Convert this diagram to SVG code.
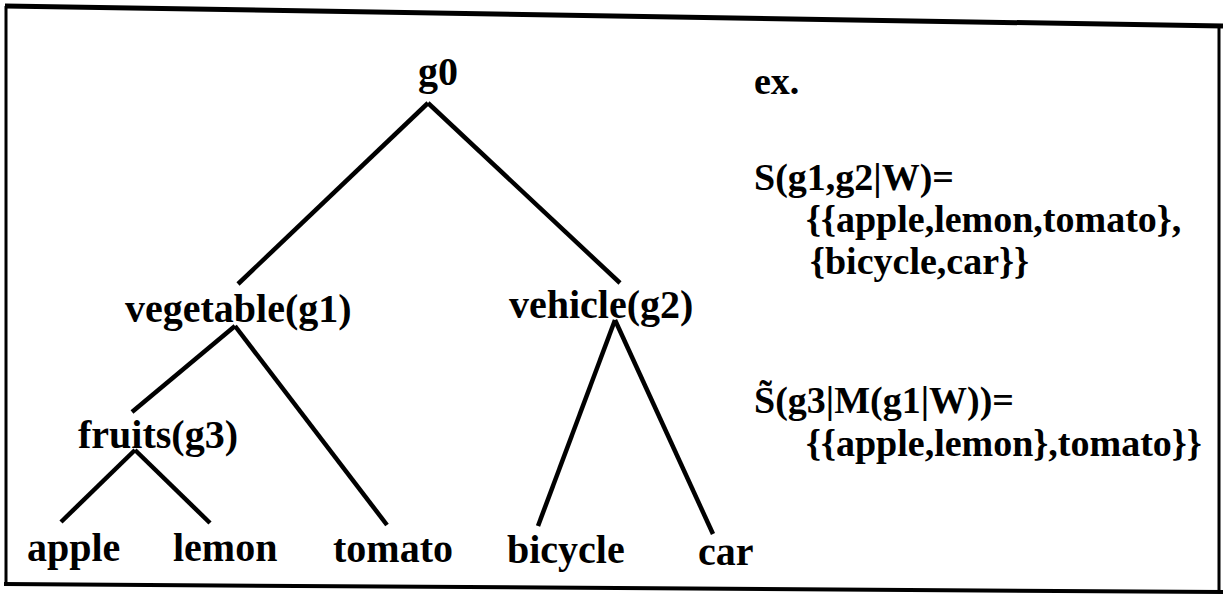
<svg xmlns="http://www.w3.org/2000/svg" width="1223" height="600" viewBox="0 0 1223 600">
  <style>
    .lbl { font-family: "Liberation Serif", "Times New Roman", serif; font-weight: bold; fill: #000; }
    .node { font-size: 40px; }
    .leaf { font-size: 40px; }
    .note { font-size: 38px; }
    .edge { stroke: #000; stroke-width: 4.5; stroke-linecap: butt; fill: none; }
    .frame { stroke: #000; fill: none; }
  </style>
  <rect width="1223" height="600" fill="#fff"/>

  <!-- outer frame (slightly skewed) -->
  <g id="frame">
    <path class="frame" stroke-width="5" d="M5,6 L1223,26"/>
    <path class="frame" stroke-width="3" d="M6,6 L6,585"/>
    <path class="frame" stroke-width="4" d="M4,584 L1223,592"/>
    <path class="frame" stroke-width="3" d="M1219,26 L1219,592"/>
  </g>

  <!-- tree edges -->
  <g id="connectors">
    <line class="edge" x1="428" y1="103" x2="238" y2="284"/>
    <line class="edge" x1="428" y1="103" x2="620" y2="283"/>
    <line class="edge" x1="235" y1="326" x2="132" y2="412"/>
    <line class="edge" x1="235" y1="326" x2="387" y2="525"/>
    <line class="edge" x1="615" y1="320" x2="538" y2="526"/>
    <line class="edge" x1="615" y1="320" x2="713" y2="534"/>
    <line class="edge" x1="135" y1="450" x2="61" y2="522"/>
    <line class="edge" x1="135" y1="450" x2="210" y2="523"/>
  </g>

  <g id="g0"><text class="lbl node" x="438" y="85" text-anchor="middle">g0</text></g>
  <g id="vegetable"><text class="lbl node" x="125" y="322">vegetable(g1)</text></g>
  <g id="vehicle"><text class="lbl node" x="509" y="318">vehicle(g2)</text></g>
  <g id="fruits"><text class="lbl node" x="78" y="448">fruits(g3)</text></g>
  <g id="apple"><text class="lbl leaf" x="27" y="561">apple</text></g>
  <g id="lemon"><text class="lbl leaf" x="173" y="561">lemon</text></g>
  <g id="tomato"><text class="lbl leaf" x="333" y="562">tomato</text></g>
  <g id="bicycle"><text class="lbl leaf" x="507" y="563">bicycle</text></g>
  <g id="car"><text class="lbl leaf" x="698" y="565">car</text></g>

  <!-- worked example -->
  <g id="example">
    <text class="lbl note" x="754" y="94">ex.</text>
    <text class="lbl note" x="754" y="190">S(g1,g2|W)=</text>
    <text class="lbl note" x="806" y="232">{{apple,lemon,tomato},</text>
    <text class="lbl note" x="810" y="274">{bicycle,car}}</text>
    <text class="lbl note" x="754" y="413">S̃(g3|M(g1|W))=</text>
    <text class="lbl note" x="806" y="456">{{apple,lemon},tomato}}</text>
  </g>
</svg>
